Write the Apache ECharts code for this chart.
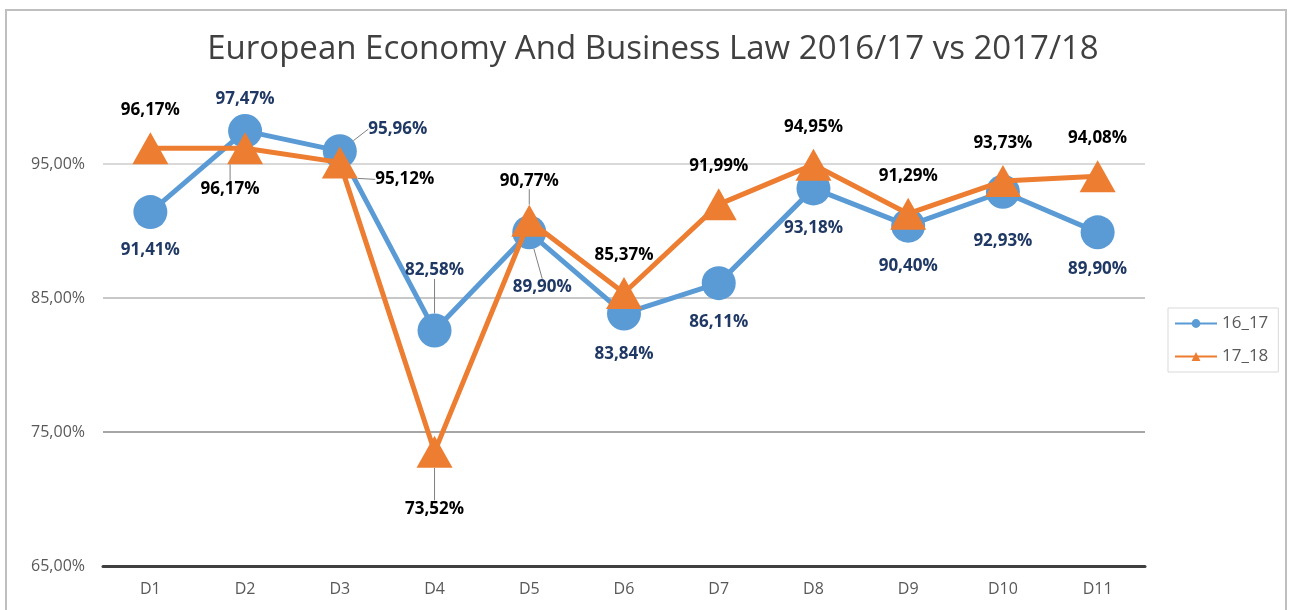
<!DOCTYPE html>
<html>
<head>
<meta charset="utf-8">
<script src="https://cdn.jsdelivr.net/npm/echarts@6/dist/echarts.min.js"></script>
<style>
  html, body { margin: 0; padding: 0; background: #fff; }
  #frame {
    position: absolute; left: 5px; top: 9px; width: 1282px; height: 640px;
    border: 2px solid #bfbfbf; border-bottom: none; box-sizing: border-box;
  }
  #chart { position: absolute; left: 0; top: 0; width: 1290px; height: 610px; }
</style>
</head>
<body>
<div id="frame"></div>
<div id="chart"></div>
<script>
const categories = ['D1', 'D2', 'D3', 'D4', 'D5', 'D6', 'D7', 'D8', 'D9', 'D10', 'D11']
const values1617 = [91.41, 97.47, 95.96, 82.58, 89.90, 83.84, 86.11, 93.18, 90.40, 92.93, 89.90]
const values1718 = [96.17, 96.17, 95.12, 73.52, 90.77, 85.37, 91.99, 94.95, 91.29, 93.73, 94.08]

// label offsets (dx, dy) from each point, and whether a leader line is drawn
const offsets1617 = [[0, 38], [0, -32], [58, -22], [0, -60], [13, 55], [0, 41], [0, 39], [0, 40], [0, 41], [0, 49], [0, 37]]
const leader1617 = [false, false, true, true, true, false, false, false, false, false, false]
const offsets1718 = [[0, -38], [-15, 41], [65, 17], [0, 57], [0, -40], [0, -38], [0, -38], [0, -38], [0, -38], [0, -38], [0, -38]]
const leader1718 = [false, true, true, true, true, false, false, false, false, false, false]

const chart = echarts.init(document.getElementById('chart'))
const fmt = v => v.toFixed(2).replace('.', ',') + '%'
const font = '"Open Sans", "Noto Sans", sans-serif'

function makeLayout(offsets) {
  return params => ({ dx: offsets[params.dataIndex][0], dy: offsets[params.dataIndex][1] })
}

function makeData(values, leaders) {
  return values.map((v, i) => ({ value: v, labelLine: { show: leaders[i] } }))
}

const option = {
  animation: false,
  title: {
    text: 'European Economy And Business Law 2016/17 vs 2017/18',
    left: 648,
    textAlign: 'center',
    top: 28,
    textStyle: { fontFamily: font, fontSize: 33, fontWeight: 'normal', color: '#404040' }
  },
  legend: {
    orient: 'vertical',
    left: 1168,
    top: 308,
    padding: [7, 10, 7, 6],
    itemGap: 16,
    itemWidth: 42,
    itemHeight: 11,
    borderColor: '#d9d9d9',
    borderWidth: 1,
    textStyle: { fontFamily: font, fontSize: 17, color: '#595959' },
    data: ['16_17', '17_18']
  },
  grid: { left: 103, right: 145, top: 97, bottom: 44 },
  xAxis: {
    type: 'category',
    data: categories,
    axisLine: { lineStyle: { color: '#404040', width: 3 } },
    axisTick: { show: false },
    axisLabel: { fontFamily: font, fontSize: 16, color: '#595959', margin: 15 }
  },
  yAxis: {
    type: 'value',
    min: 65,
    max: 100,
    interval: 10,
    axisLine: { show: false },
    axisTick: { show: false },
    axisLabel: {
      fontFamily: font, fontSize: 16, color: '#595959', margin: 18,
      formatter: v => v >= 100 ? '' : v.toFixed(2).replace('.', ',') + '%'
    },
    splitLine: {
      lineStyle: { color: ['transparent', '#a6a6a6', '#c8c8c8', '#d9d9d9', 'transparent'], width: 2 }
    }
  },
  series: [
    {
      name: '16_17',
      type: 'line',
      data: makeData(values1617, leader1617),
      symbol: 'circle',
      symbolSize: 34,
      itemStyle: { color: '#5b9bd5' },
      lineStyle: { color: '#5b9bd5', width: 5 },
      label: {
        show: true,
        position: 'inside',
        formatter: p => fmt(p.value),
        fontFamily: font, fontSize: 17, fontWeight: 'bold', color: '#1f3864'
      },
      labelLine: { lineStyle: { color: '#7f7f7f', width: 1 } },
      labelLayout: makeLayout(offsets1617),
      z: 2
    },
    {
      name: '17_18',
      type: 'line',
      data: makeData(values1718, leader1718),
      symbol: 'triangle',
      symbolSize: [36, 32],
      itemStyle: { color: '#ed7d31' },
      lineStyle: { color: '#ed7d31', width: 5 },
      label: {
        show: true,
        position: 'inside',
        formatter: p => fmt(p.value),
        fontFamily: font, fontSize: 17, fontWeight: 'bold', color: '#000000'
      },
      labelLine: { lineStyle: { color: '#7f7f7f', width: 1 } },
      labelLayout: makeLayout(offsets1718),
      z: 3
    }
  ]
}

chart.setOption(option)
</script>
</body>
</html>
